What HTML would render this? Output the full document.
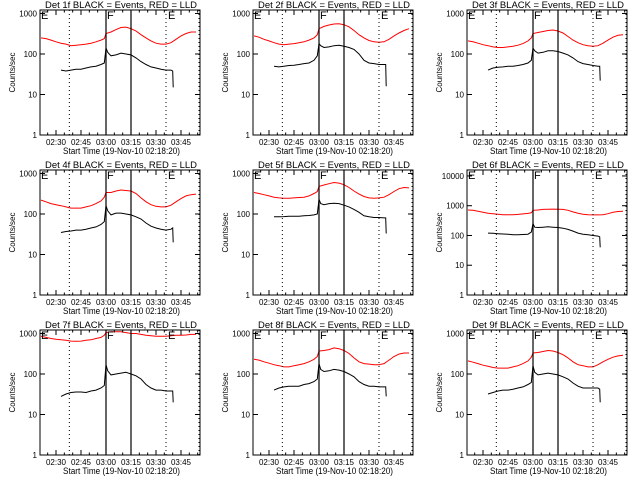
<!DOCTYPE html>
<html><head><meta charset="utf-8"><style>
html,body{margin:0;padding:0;background:#fff;}
svg{display:block;font-family:"Liberation Sans",sans-serif;}
</style></head><body>
<svg id="chart" width="640" height="480" xmlns="http://www.w3.org/2000/svg"></svg>
<script>
// shared time samples (minutes relative to 03:00)
const redTimes = [-39,-36,-33,-30,-27,-24,-21,-18,-15,-12,-9,-6,-3,-1,0,3,6,9,12,15,18,21,24,27,30,33,36,39,42,45,48,51,54];
const blackTimes = [-27,-24,-21,-18,-15,-12,-9,-6,-3,-1,0,1,3,6,9,12,15,18,21,24,27,30,33,36,39,40,40.3];
const detectorNames = ["1f","2f","3f","4f","5f","6f","7f","8f","9f"];
const logMax = [3.086,3.086,3.086,3.086,3.086,4.2,3.086,3.086,3.086];
const xTickLabels = ["02:30","02:45","03:00","03:15","03:30","03:45"];
const xTickMinutes = [-30,-15,0,15,30,45];
const solidMarkers = [0,15];
const dottedMarkers = [-22,36,55.8];
const red1=[250,240,220,200,185,175,160,165,170,175,185,200,220,240,320,350,400,450,460,420,370,300,250,210,185,175,175,190,230,280,320,350,350];
const black1=[40,38,40,42,42,45,48,50,55,60,140,110,90,95,105,100,95,80,65,55,48,45,42,40,40,38,15];
const red2=[280,260,230,210,190,175,170,175,180,190,200,220,250,300,420,480,520,550,560,530,470,380,300,250,215,200,195,200,230,280,330,380,420];
const black2=[50,48,50,52,53,55,58,60,70,90,180,160,145,150,160,165,155,145,130,100,70,60,58,55,55,55,16];
const red3=[210,200,185,170,160,150,145,145,150,155,165,180,210,250,320,340,360,380,390,370,330,270,220,190,170,160,155,160,185,220,260,290,300];
const black3=[40,45,47,48,50,50,52,55,60,70,140,120,105,110,120,120,115,105,95,80,65,58,55,52,50,50,22];
const red4=[220,200,180,170,160,150,140,140,140,150,160,180,210,260,340,340,370,390,380,370,320,250,200,170,155,150,150,165,200,240,280,300,310];
const black4=[35,37,38,40,40,42,45,48,55,65,160,120,95,105,105,100,95,85,75,60,50,45,42,40,42,45,20];
const red5=[340,320,300,280,260,250,245,245,250,255,260,280,320,360,480,520,560,600,580,530,450,370,310,270,250,245,250,260,300,360,420,450,440];
const black5=[85,85,86,88,88,88,90,92,95,100,230,180,170,180,185,180,165,150,130,110,90,85,82,82,80,80,33];
const red6=[720,700,650,600,560,540,520,500,500,500,510,530,550,580,700,720,750,760,770,760,750,700,620,560,520,500,490,490,500,540,600,640,650];
const black6=[120,118,115,112,110,105,105,108,110,130,250,190,185,190,195,190,185,175,160,140,120,110,105,100,95,90,40];
const red7=[850,800,750,720,700,680,650,640,650,680,700,750,800,900,1050,1100,1100,1100,1050,1000,1000,950,900,880,850,850,850,880,900,900,920,950,950];
const black7=[28,32,35,36,36,35,38,40,45,52,170,120,95,100,105,110,100,90,75,55,45,40,40,38,38,38,20];
const red8=[230,220,200,185,170,160,150,150,160,170,180,200,230,270,370,380,400,440,420,380,320,250,200,180,175,170,170,180,220,270,310,330,330];
const black8=[40,45,48,50,50,50,55,58,65,75,180,130,115,120,130,125,115,100,85,65,55,50,50,48,48,48,28];
const red9=[210,195,180,165,155,145,140,140,140,150,160,180,210,260,330,340,360,380,370,340,300,250,200,170,160,150,150,170,200,230,260,280,290];
const black9=[32,35,38,40,40,42,45,48,55,62,160,110,95,100,105,100,95,85,75,60,50,45,45,45,45,42,20];
const redSeries=[red1,red2,red3,red4,red5,red6,red7,red8,red9];
const blackSeries=[black1,black2,black3,black4,black5,black6,black7,black8,black9];

const NS="http://www.w3.org/2000/svg";
const svg=document.getElementById('chart');
function mk(tag,attrs,parent){const e=document.createElementNS(NS,tag);for(const k in attrs)e.setAttribute(k,attrs[k]);parent.appendChild(e);return e;}
const colOff=[0,213,427], rowOff=[0,160,320];
const L=40,R=200,T=10,B=135;
for(let p=0;p<9;p++){
  const ox=colOff[p%3], oy=rowOff[Math.floor(p/3)];
  const g=mk('g',{transform:`translate(${ox},${oy})`},svg);
  
  
  const xs=t=>106+t*(25/15);
  const ys=v=>B-(Math.log10(v)/logMax[p])*(B-T);
  const rp=redTimes.map((t,i)=>`${xs(t).toFixed(1)},${ys(redSeries[p][i]).toFixed(1)}`).join(' ');
  const rl=mk('polyline',{points:rp,fill:'none',stroke:'#ff0000','stroke-width':1},g);
  
  
  const bp=blackTimes.map((t,i)=>`${xs(t).toFixed(1)},${ys(blackSeries[p][i]).toFixed(1)}`).join(' ');
  const bl=mk('polyline',{points:bp,fill:'none',stroke:'#000','stroke-width':1},g);
  
  
  solidMarkers.forEach(m=>{const l=mk('line',{x1:xs(m),x2:xs(m),y1:T,y2:B,stroke:'#000','stroke-width':1.2},g);
    });
  dottedMarkers.forEach(m=>{const l=mk('line',{x1:xs(m),x2:xs(m),y1:T,y2:B,stroke:'#000','stroke-width':1,'stroke-dasharray':'1,3'},g);
    });
  [['E',L+1],['F',xs(0)+1],['E',xs(36)+2]].forEach(([c,x])=>{const t=mk('text',{x:x,y:T+9,'font-size':11},g);t.textContent=c;
    });
  const bx=mk('rect',{x:L,y:T,width:R-L,height:B-T,fill:'none',stroke:'#000','stroke-width':1},g);
  
  const nd=Math.floor(logMax[p]);
  for(let d=0;d<=nd;d++){
    const y=ys(Math.pow(10,d));
    mk('line',{x1:L,x2:L+5,y1:y,y2:y,stroke:'#000'},g);
    mk('line',{x1:R,x2:R-5,y1:y,y2:y,stroke:'#000'},g);
    const t=mk('text',{x:L-3,y:y+3,'font-size':8,'text-anchor':'end'},g);
    t.textContent=String(Math.pow(10,d));
    
  }
  for(let m=-35;m<=55;m+=5){const x=xs(m);const len=(m%15===0)?5:2.5;
    mk('line',{x1:x,x2:x,y1:B,y2:B-len,stroke:'#000'},g);
    mk('line',{x1:x,x2:x,y1:T,y2:T+len,stroke:'#000'},g);}
  xTickMinutes.forEach((m,i)=>{const t=mk('text',{x:xs(m),y:B+10,'font-size':8,'text-anchor':'middle'},g);
    t.textContent=xTickLabels[i];});
  const xt=mk('text',{x:63,y:B+19,'font-size':9,textLength:117,lengthAdjust:'spacingAndGlyphs'},g);
  xt.textContent='Start Time (19-Nov-10 02:18:20)';
  
  const yt=mk('text',{x:0,y:0,'font-size':8,'text-anchor':'middle',transform:`translate(15,${(T+B)/2}) rotate(-90)`},g);
  yt.textContent='Counts/sec';
  
  const tt=mk('text',{x:45,y:8,'font-size':9.5,textLength:152,lengthAdjust:'spacingAndGlyphs'},g);
  tt.textContent='Det '+detectorNames[p]+' BLACK = Events, RED = LLD';
  
}
</script>
</body></html>
